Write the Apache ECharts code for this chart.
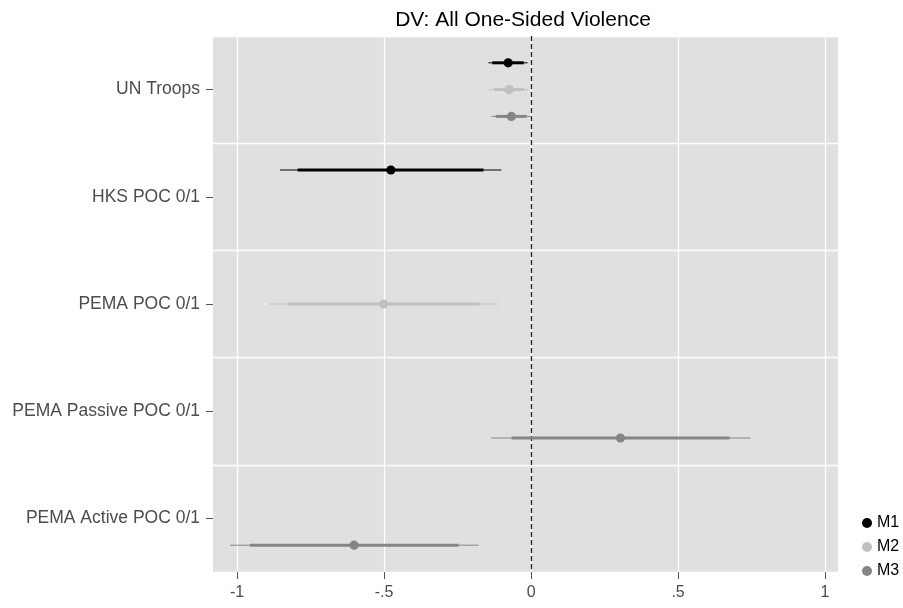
<!DOCTYPE html>
<html><head><meta charset="utf-8">
<script src="https://cdn.jsdelivr.net/npm/echarts@6/dist/echarts.min.js"></script>
<style>html,body{margin:0;padding:0;background:#fff}#c{width:903px;height:608px}</style>
</head><body><div id="c"></div>
<script>
const categories = ['UN Troops','HKS POC 0/1','PEMA POC 0/1','PEMA Passive POC 0/1','PEMA Active POC 0/1'];
const models = ['M1','M2','M3'];
const modelColors = ['#000000','#c0c0c0','#858585'];
const xTickValues = [-1,-0.5,0,0.5,1];
const xTickLabels = ['-1','-.5','0','.5','1'];

const m1Category = ['UN Troops','HKS POC 0/1'];
const m1Estimate = [-0.078,-0.477];
const m1Outer = [[-0.145,-0.012],[-0.854,-0.101]];
const m1Inner = [[-0.132,-0.025],[-0.794,-0.162]];

const m2Category = ['UN Troops','PEMA POC 0/1'];
const m2Estimate = [-0.075,-0.502];
const m2Outer = [[-0.142,-0.009],[-0.890,-0.113]];
const m2Inner = [[-0.127,-0.024],[-0.828,-0.176]];

const m3Category = ['UN Troops','PEMA Passive POC 0/1','PEMA Active POC 0/1'];
const m3Estimate = [-0.067,0.304,-0.602];
const m3Outer = [[-0.134,0.002],[-0.137,0.747],[-1.024,-0.178]];
const m3Inner = [[-0.120,-0.015],[-0.066,0.675],[-0.956,-0.247]];

const dodge = [-0.25,0,0.25];

function build(cats, est, outer, inner){
  return cats.map((c,i)=>[est[i], outer[i][0], outer[i][1], inner[i][0], inner[i][1], categories.indexOf(c)]);
}
const modelData = [
  build(m1Category,m1Estimate,m1Outer,m1Inner),
  build(m2Category,m2Estimate,m2Outer,m2Inner),
  build(m3Category,m3Estimate,m3Outer,m3Inner)
];

function renderItem(params, api){
  const k = params.seriesIndex;
  const color = modelColors[k];
  const band = api.size([0,1])[1];
  const cat = api.value(5);
  const off = dodge[k]*band;
  const pe = api.coord([api.value(0), cat]);
  const y = pe[1] + off;
  const lo95 = api.coord([api.value(1), cat])[0];
  const hi95 = api.coord([api.value(2), cat])[0];
  const lo90 = api.coord([api.value(3), cat])[0];
  const hi90 = api.coord([api.value(4), cat])[0];
  return {type:'group', children:[
    {type:'line', shape:{x1:lo95,y1:y,x2:hi95,y2:y}, style:{stroke:color,lineWidth:1}},
    {type:'line', shape:{x1:lo90,y1:y,x2:hi90,y2:y}, style:{stroke:color,lineWidth:3}},
    {type:'circle', shape:{cx:pe[0],cy:y,r:4.6}, style:{fill:color}}
  ]};
}

const chart = echarts.init(document.getElementById('c'), null, {renderer:'canvas'});
const font = 'Liberation Sans, Arial, Helvetica, sans-serif';
const series = models.map((m,k)=>({
  name:m, type:'custom', renderItem, data:modelData[k],
  encode:{x:[0,1,2,3,4], y:5}, itemStyle:{color:modelColors[k]}, z:5
}));
series.push({
  type:'line', data:[], silent:true, z:3,
  markLine:{silent:true, symbol:'none', label:{show:false},
    lineStyle:{type:[5,3], color:'#222', width:1.3},
    data:[{xAxis:0}]}
});

chart.setOption({
  animation:false,
  backgroundColor:'#ffffff',
  title:{text:'DV: All One-Sided Violence', left:518, top:5, textAlign:'center',
    textStyle:{fontFamily:font, fontSize:21, fontWeight:'normal', color:'#000'}},
  legend:{orient:'vertical', left:857, top:510, itemWidth:10, itemHeight:10, itemGap:8,
    icon:'circle', data:models,
    textStyle:{fontFamily:font, fontSize:16, color:'#000'}},
  grid:{left:213, right:65, top:36, bottom:36, show:true, backgroundColor:'#e0e0e0', borderWidth:0},
  xAxis:{type:'value', min:-1.082, max:1.044,
    axisLine:{show:false, onZero:false},
    axisTick:{show:true, length:7, customValues:xTickValues, lineStyle:{color:'#555'}},
    axisLabel:{customValues:xTickValues, margin:13, fontFamily:font, fontSize:16, color:'#4d4d4d',
      formatter:v=>{const i=xTickValues.findIndex(t=>Math.abs(t-v)<1e-9);return i>=0?xTickLabels[i]:'';}},
    splitLine:{show:true, lineStyle:{color:'#ffffff', width:1.3}}
  },
  yAxis:{type:'category', data:categories, inverse:true,
    axisLine:{show:false, onZero:false},
    axisTick:{show:true, alignWithLabel:true, length:7, lineStyle:{color:'#555'}},
    axisLabel:{margin:13, fontFamily:font, fontSize:17.5, color:'#4d4d4d'},
    splitLine:{show:true, lineStyle:{color:'#ffffff', width:1.3}}
  },
  series
});
</script></body></html>
